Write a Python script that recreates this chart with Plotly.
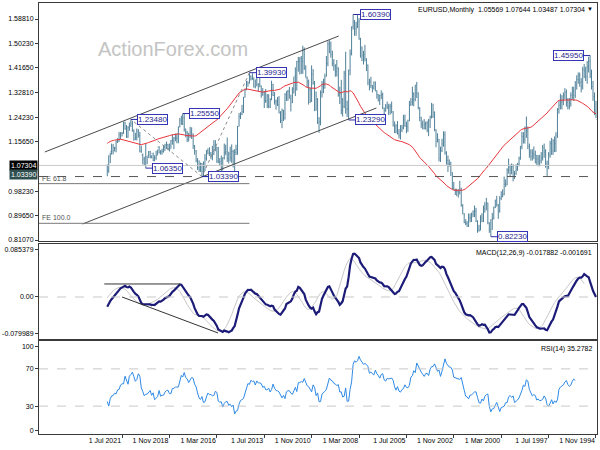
import numpy as np
import pandas as pd
import plotly.graph_objects as go

# ---------------- data (monthly EURUSD, Nov 1994 .. May 2022) ----------------
first_month = "1994-11-01"
first_open = 1.2350

bar_high = [
    1.300, 1.330,
    1.370, 1.410, 1.4595, 1.455, 1.440, 1.420, 1.430, 1.420, 1.380, 1.400, 1.400, 1.390,
    1.370, 1.350, 1.350, 1.330, 1.310, 1.310, 1.340, 1.345, 1.330, 1.320, 1.325, 1.300,
    1.275, 1.190, 1.175, 1.165, 1.170, 1.160, 1.120, 1.090, 1.130, 1.150, 1.145, 1.120,
    1.110, 1.110, 1.110, 1.125, 1.140, 1.130, 1.130, 1.150, 1.210, 1.245, 1.210, 1.190,
    1.191, 1.142, 1.104, 1.082, 1.077, 1.054, 1.077, 1.080, 1.076, 1.097, 1.063, 1.024,
    1.034, 0.989, 0.982, 0.965, 0.937, 0.966, 0.952, 0.928, 0.906, 0.883, 0.873, 0.942,
    0.959, 0.944, 0.932, 0.905, 0.898, 0.864, 0.880, 0.924, 0.932, 0.915, 0.907, 0.904,
    0.904, 0.877, 0.884, 0.905, 0.937, 0.995, 1.019, 0.989, 0.991, 0.991, 1.015, 1.049,
    1.086, 1.094, 1.108, 1.123, 1.193, 1.193, 1.167, 1.139, 1.166, 1.186, 1.200, 1.263,
    1.290, 1.293, 1.248, 1.237, 1.230, 1.227, 1.236, 1.231, 1.244, 1.278, 1.330, 1.367,
    1.356, 1.330, 1.350, 1.310, 1.300, 1.234, 1.227, 1.252, 1.251, 1.216, 1.215, 1.201,
    1.229, 1.218, 1.228, 1.264, 1.298, 1.290, 1.290, 1.298, 1.289, 1.276, 1.329, 1.337,
    1.322, 1.324, 1.337, 1.368, 1.368, 1.356, 1.385, 1.378, 1.428, 1.450, 1.497, 1.476,
    1.492, 1.522, 1.591, 1.602, 1.578, 1.585, 1.6039, 1.562, 1.481, 1.410, 1.301, 1.473,
    1.406, 1.310, 1.374, 1.350, 1.418, 1.444, 1.429, 1.447, 1.477, 1.509, 1.514, 1.510,
    1.458, 1.396, 1.378, 1.370, 1.337, 1.243, 1.310, 1.333, 1.370, 1.412, 1.425, 1.347,
    1.375, 1.386, 1.425, 1.488, 1.494, 1.458, 1.454, 1.455, 1.441, 1.418, 1.385, 1.348,
    1.322, 1.349, 1.339, 1.334, 1.327, 1.269, 1.273, 1.264, 1.317, 1.314, 1.305, 1.331,
    1.360, 1.371, 1.309, 1.324, 1.324, 1.342, 1.335, 1.345, 1.354, 1.383, 1.362, 1.389,
    1.374, 1.382, 1.397, 1.390, 1.3993, 1.368, 1.370, 1.343, 1.314, 1.286, 1.260, 1.257,
    1.212, 1.146, 1.130, 1.128, 1.147, 1.139, 1.121, 1.171, 1.146, 1.150, 1.102, 1.108,
    1.099, 1.138, 1.139, 1.162, 1.162, 1.142, 1.120, 1.137, 1.133, 1.127, 1.113, 1.087,
    1.081, 1.083, 1.091, 1.099, 1.127, 1.145, 1.185, 1.207, 1.209, 1.188, 1.194, 1.203,
    1.254, 1.2555, 1.248, 1.240, 1.210, 1.185, 1.185, 1.173, 1.182, 1.162, 1.150, 1.149,
    1.157, 1.149, 1.145, 1.132, 1.127, 1.141, 1.129, 1.125, 1.109, 1.118, 1.109, 1.124,
    1.124, 1.105, 1.150, 1.102, 1.115, 1.142, 1.191, 1.201, 1.203, 1.188, 1.200, 1.230,
    1.2348, 1.224, 1.211, 1.215, 1.227, 1.227, 1.191, 1.190, 1.191, 1.169, 1.161, 1.138,
    1.148, 1.150, 1.118, 1.108, 1.07644,
]

bar_low = [
    1.240, 1.250,
    1.300, 1.340, 1.380, 1.400, 1.360, 1.370, 1.380, 1.340, 1.330, 1.350, 1.360, 1.340,
    1.310, 1.300, 1.305, 1.280, 1.270, 1.270, 1.280, 1.305, 1.285, 1.270, 1.270, 1.255,
    1.170, 1.120, 1.120, 1.110, 1.110, 1.100, 1.060, 1.036, 1.065, 1.100, 1.090, 1.080,
    1.070, 1.070, 1.075, 1.080, 1.095, 1.090, 1.090, 1.100, 1.130, 1.170, 1.150, 1.150,
    1.130, 1.093, 1.070, 1.054, 1.040, 1.025, 1.017, 1.042, 1.032, 1.044, 1.003, 0.997,
    0.968, 0.961, 0.951, 0.907, 0.885, 0.928, 0.923, 0.883, 0.846, 0.8223, 0.836, 0.866,
    0.915, 0.907, 0.874, 0.873, 0.845, 0.840, 0.836, 0.874, 0.891, 0.891, 0.874, 0.873,
    0.857, 0.857, 0.863, 0.870, 0.902, 0.928, 0.971, 0.960, 0.965, 0.969, 0.987, 0.990,
    1.036, 1.069, 1.050, 1.076, 1.111, 1.139, 1.120, 1.085, 1.087, 1.154, 1.137, 1.193,
    1.240, 1.238, 1.205, 1.176, 1.190, 1.199, 1.200, 1.200, 1.205, 1.228, 1.270, 1.310,
    1.299, 1.281, 1.284, 1.282, 1.229, 1.191, 1.186, 1.209, 1.200, 1.190, 1.164, 1.168,
    1.182, 1.186, 1.187, 1.210, 1.256, 1.252, 1.250, 1.271, 1.262, 1.249, 1.271, 1.306,
    1.286, 1.298, 1.308, 1.334, 1.340, 1.330, 1.345, 1.337, 1.355, 1.405, 1.439, 1.428,
    1.440, 1.452, 1.515, 1.556, 1.529, 1.529, 1.551, 1.460, 1.390, 1.2329, 1.243, 1.255,
    1.274, 1.245, 1.253, 1.289, 1.315, 1.386, 1.385, 1.406, 1.422, 1.452, 1.468, 1.422,
    1.386, 1.343, 1.327, 1.312, 1.214, 1.188, 1.219, 1.266, 1.264, 1.357, 1.296, 1.293,
    1.287, 1.349, 1.382, 1.409, 1.395, 1.395, 1.393, 1.403, 1.337, 1.317, 1.326, 1.292,
    1.263, 1.309, 1.300, 1.300, 1.235, 1.229, 1.204, 1.222, 1.256, 1.282, 1.269, 1.287,
    1.317, 1.302, 1.275, 1.274, 1.275, 1.293, 1.275, 1.318, 1.311, 1.348, 1.333, 1.351,
    1.344, 1.347, 1.374, 1.372, 1.361, 1.350, 1.338, 1.312, 1.257, 1.250, 1.236, 1.210,
    1.110, 1.110, 1.046, 1.066, 1.082, 1.087, 1.080, 1.085, 1.109, 1.094, 1.056, 1.052,
    1.071, 1.081, 1.082, 1.123, 1.110, 1.091, 1.095, 1.106, 1.112, 1.090, 1.053, 1.035,
    1.0339, 1.050, 1.050, 1.057, 1.084, 1.111, 1.131, 1.166, 1.170, 1.157, 1.155, 1.172,
    1.192, 1.215, 1.216, 1.207, 1.151, 1.151, 1.158, 1.130, 1.146, 1.132, 1.122, 1.127,
    1.131, 1.124, 1.118, 1.111, 1.111, 1.116, 1.110, 1.093, 1.088, 1.088, 1.098, 1.098,
    1.099, 1.078, 1.0635, 1.073, 1.077, 1.117, 1.119, 1.171, 1.161, 1.162, 1.160, 1.192,
    1.209, 1.195, 1.170, 1.170, 1.199, 1.184, 1.175, 1.166, 1.156, 1.152, 1.119, 1.122,
    1.112, 1.111, 1.081, 1.047, 1.03487,
]

bar_close = [
    1.255, 1.315,
    1.350, 1.395, 1.440, 1.420, 1.385, 1.405, 1.410, 1.350, 1.365, 1.390, 1.375, 1.355,
    1.320, 1.335, 1.320, 1.290, 1.280, 1.295, 1.330, 1.320, 1.300, 1.295, 1.285, 1.270,
    1.180, 1.150, 1.160, 1.125, 1.150, 1.110, 1.070, 1.080, 1.120, 1.135, 1.100, 1.090,
    1.085, 1.095, 1.085, 1.110, 1.115, 1.105, 1.120, 1.140, 1.195, 1.205, 1.165, 1.175,
    1.139, 1.098, 1.077, 1.058, 1.043, 1.034, 1.069, 1.057, 1.067, 1.057, 1.007, 1.007,
    0.971, 0.964, 0.957, 0.911, 0.936, 0.952, 0.926, 0.887, 0.883, 0.846, 0.871, 0.941,
    0.935, 0.922, 0.877, 0.888, 0.845, 0.847, 0.877, 0.912, 0.911, 0.902, 0.889, 0.888,
    0.859, 0.869, 0.872, 0.902, 0.933, 0.987, 0.977, 0.981, 0.987, 0.989, 0.992, 1.049,
    1.076, 1.078, 1.091, 1.117, 1.181, 1.149, 1.125, 1.098, 1.165, 1.158, 1.199, 1.260,
    1.245, 1.245, 1.232, 1.196, 1.220, 1.218, 1.203, 1.218, 1.242, 1.276, 1.327, 1.356,
    1.304, 1.326, 1.296, 1.287, 1.230, 1.210, 1.213, 1.233, 1.205, 1.198, 1.179, 1.185,
    1.214, 1.190, 1.212, 1.262, 1.282, 1.279, 1.277, 1.281, 1.267, 1.275, 1.323, 1.319,
    1.302, 1.323, 1.336, 1.366, 1.345, 1.354, 1.369, 1.364, 1.426, 1.448, 1.463, 1.459,
    1.486, 1.518, 1.579, 1.561, 1.554, 1.576, 1.561, 1.466, 1.408, 1.273, 1.270, 1.397,
    1.280, 1.267, 1.325, 1.323, 1.415, 1.403, 1.424, 1.433, 1.464, 1.472, 1.500, 1.432,
    1.386, 1.363, 1.351, 1.330, 1.227, 1.223, 1.305, 1.268, 1.362, 1.393, 1.300, 1.338,
    1.369, 1.380, 1.416, 1.481, 1.439, 1.450, 1.439, 1.438, 1.339, 1.387, 1.343, 1.296,
    1.308, 1.334, 1.334, 1.323, 1.236, 1.266, 1.231, 1.258, 1.286, 1.296, 1.299, 1.319,
    1.358, 1.306, 1.282, 1.317, 1.300, 1.301, 1.330, 1.322, 1.353, 1.359, 1.359, 1.375,
    1.349, 1.381, 1.377, 1.387, 1.363, 1.369, 1.339, 1.313, 1.263, 1.253, 1.245, 1.210,
    1.129, 1.119, 1.073, 1.122, 1.099, 1.114, 1.098, 1.121, 1.118, 1.100, 1.057, 1.086,
    1.083, 1.088, 1.138, 1.145, 1.113, 1.110, 1.117, 1.116, 1.124, 1.098, 1.059, 1.052,
    1.080, 1.058, 1.065, 1.090, 1.124, 1.142, 1.184, 1.191, 1.181, 1.165, 1.190, 1.200,
    1.241, 1.219, 1.232, 1.208, 1.169, 1.168, 1.169, 1.160, 1.161, 1.131, 1.132, 1.147,
    1.145, 1.137, 1.122, 1.121, 1.117, 1.137, 1.108, 1.099, 1.090, 1.115, 1.102, 1.121,
    1.109, 1.103, 1.103, 1.096, 1.110, 1.123, 1.178, 1.194, 1.172, 1.165, 1.193, 1.222,
    1.213, 1.207, 1.173, 1.202, 1.223, 1.186, 1.187, 1.181, 1.158, 1.156, 1.134, 1.137,
    1.124, 1.122, 1.107, 1.05569, 1.07304,
]

# labelled swing points
label_dates = ["2021-01-01", "2020-03-01", "2018-02-01", "2017-01-01", "2014-05-01",
               "2008-07-01", "2008-10-01", "2000-10-01", "1995-03-01"]
label_prices = [1.2348, 1.0635, 1.2555, 1.0339, 1.3993, 1.6039, 1.2329, 0.8223, 1.4595]
label_side = [1, 1, 1, 1, 1, 1, 1, 1, -1]

# Fibonacci expansion anchor points (A, B, C) and ratios
fe_dates = ["2014-05-01", "2017-01-01", "2021-01-01"]
fe_prices = [1.3993, 1.0339, 1.2348]
fe_ratios = [61.8, 100.0]

# channel trend lines
chan_upper_dates = ["2025-11-04", "2009-04-22"]
chan_upper_prices = [1.1203, 1.5283]
chan_lower_dates = ["2023-09-22", "2007-03-10"]
chan_lower_prices = [0.8670, 1.2751]

# MACD trend lines
macd_flat_dates = ["2022-07-01", "2018-03-19"]
macd_flat_vals = [0.0236, 0.0236]
macd_down_dates = ["2021-07-01", "2016-02-06"]
macd_down_vals = [0.0, -0.0652]

current_price = 1.07304
support_price = 1.0339

price_ticks = [1.5881, 1.5023, 1.4165, 1.3281, 1.2423, 1.1565, 0.9823, 0.8965, 0.8107]
date_ticks = ["1994-11-01", "1997-07-01", "2000-03-01", "2002-11-01", "2005-07-01",
              "2008-03-01", "2010-11-01", "2013-07-01", "2016-03-01", "2018-11-01",
              "2021-07-01"]

# ---------------- derived series ----------------
dates = pd.date_range(first_month, periods=len(bar_close), freq="MS")
close = np.array(bar_close)
opens = np.concatenate([[first_open], close[:-1]])


def ema(x, n):
    a = 2.0 / (n + 1)
    out = np.empty(len(x))
    out[0] = x[0]
    for i in range(1, len(x)):
        out[i] = a * x[i] + (1 - a) * out[i - 1]
    return out


ma55 = ema(close, 55)
macd = ema(close, 12) - ema(close, 26)
signal = pd.Series(macd).rolling(9).mean().values

diff = np.diff(close)
gain = np.where(diff > 0, diff, 0.0)
loss = np.where(diff < 0, -diff, 0.0)
rsi = np.full(len(close), np.nan)
ag, al = gain[:14].mean(), loss[:14].mean()
rsi[14] = 100 - 100 / (1 + ag / al) if al > 0 else 100
for i in range(15, len(close)):
    ag = (ag * 13 + gain[i - 1]) / 14
    al = (al * 13 + loss[i - 1]) / 14
    rsi[i] = 100 - 100 / (1 + ag / al) if al > 0 else 100

# ---------------- figure ----------------
FONT = "Arial"
bar_color = "#4f8099"
xr = ["2026-03-04", "1994-10-11"]
H = 431.0
def dom(top_px, bot_px):
    return [(434 - bot_px) / H, (434 - top_px) / H]

d_main, d_macd, d_rsi = dom(3, 241), dom(244, 339), dom(341, 434)

fig = go.Figure()
fig.add_trace(go.Ohlc(x=dates, open=opens, high=bar_high, low=bar_low, close=close,
                      increasing_line_color=bar_color, decreasing_line_color=bar_color,
                      line_width=1, tickwidth=0.3, xaxis="x", yaxis="y", hoverinfo="skip"))
fig.add_trace(go.Scatter(x=dates, y=ma55, mode="lines", line=dict(color="#e8343a", width=1),
                         xaxis="x", yaxis="y", hoverinfo="skip"))
fig.add_trace(go.Scatter(x=dates, y=signal, mode="lines", line=dict(color="#c8c8c8", width=1),
                         xaxis="x2", yaxis="y2", hoverinfo="skip"))
fig.add_trace(go.Scatter(x=dates, y=macd, mode="lines", line=dict(color="#1c1c78", width=2.2),
                         xaxis="x2", yaxis="y2", hoverinfo="skip"))
fig.add_trace(go.Scatter(x=dates, y=rsi, mode="lines", line=dict(color="#2e8ae6", width=1),
                         xaxis="x3", yaxis="y3", hoverinfo="skip"))

frame = dict(showline=True, mirror=True, linecolor="#3a3a3a", linewidth=1,
             showgrid=False, zeroline=False)
tickf = dict(family=FONT, size=7, color="#000")

layout = dict(
    width=600, height=450, margin=dict(l=34, r=2, t=3, b=16),
    paper_bgcolor="white", plot_bgcolor="white", showlegend=False,
    xaxis=dict(domain=[0, 1], anchor="y", range=xr, type="date", showticklabels=False,
               ticks="", rangeslider=dict(visible=False), **frame),
    xaxis2=dict(domain=[0, 1], anchor="y2", range=xr, type="date", showticklabels=False,
                ticks="", **frame),
    xaxis3=dict(domain=[0, 1], anchor="y3", range=xr, type="date",
                tickvals=date_ticks,
                ticktext=[pd.Timestamp(d).strftime("1 %b %Y") for d in date_ticks],
                ticks="outside", ticklen=3, tickcolor="#3a3a3a",
                ticklabelposition="outside left", tickfont=tickf, **frame),
    yaxis=dict(domain=d_main, anchor="x", range=[0.8072, 1.6444], tickvals=price_ticks,
               ticktext=[f"{v:.5f}" for v in price_ticks], ticks="outside", ticklen=3,
               tickcolor="#3a3a3a", tickfont=tickf, **frame),
    yaxis2=dict(domain=d_macd, anchor="x2", range=[-0.0761, 0.0960],
                tickvals=[0.085379, 0.0, -0.0667], ticktext=["0.085379", "0.00", "-0.079989"],
                ticks="outside", ticklen=3, tickcolor="#3a3a3a", tickfont=tickf, **frame),
    yaxis3=dict(domain=d_rsi, anchor="x3", range=[0, 100],
                tickvals=[4, 30, 70, 94], ticktext=["0", "30", "70", "100"],
                ticks="outside", ticklen=3, tickcolor="#3a3a3a", tickfont=tickf, **frame),
)
fig.update_layout(**layout)

shapes = []
# horizontal price lines
shapes.append(dict(type="line", xref="x domain", yref="y", x0=0, x1=1, y0=current_price,
                   y1=current_price, line=dict(color="#c8c8c8", width=1)))
shapes.append(dict(type="line", xref="x domain", yref="y", x0=0, x1=1, y0=support_price,
                   y1=support_price, line=dict(color="#555555", width=1, dash="dash")))
# channel
for ds, ps in [(chan_upper_dates, chan_upper_prices), (chan_lower_dates, chan_lower_prices)]:
    shapes.append(dict(type="line", xref="x", yref="y", x0=ds[0], x1=ds[1], y0=ps[0], y1=ps[1],
                       line=dict(color="#4a4a4a", width=1)))
# FE anchor dotted lines
for i in range(2):
    shapes.append(dict(type="line", xref="x", yref="y", x0=fe_dates[i], x1=fe_dates[i + 1],
                       y0=fe_prices[i], y1=fe_prices[i + 1],
                       line=dict(color="#8a8a8a", width=1, dash="dot")))
# FE levels
fe_range = fe_prices[0] - fe_prices[1]
fe_levels = [fe_prices[2] - r / 100.0 * fe_range for r in fe_ratios]
for r, lv in zip(fe_ratios, fe_levels):
    shapes.append(dict(type="line", xref="x", yref="y", x0=fe_dates[0], x1=xr[0], y0=lv, y1=lv,
                       line=dict(color="#7a7a7a", width=1)))
# MACD zero + trend lines
shapes.append(dict(type="line", xref="x2 domain", yref="y2", x0=0, x1=1, y0=0, y1=0,
                   line=dict(color="#c8c8c8", width=1, dash="dash")))
for ds, vs in [(macd_flat_dates, macd_flat_vals), (macd_down_dates, macd_down_vals)]:
    shapes.append(dict(type="line", xref="x2", yref="y2", x0=ds[0], x1=ds[1], y0=vs[0], y1=vs[1],
                       line=dict(color="#333333", width=1)))
# RSI levels
for lv in (30, 70):
    shapes.append(dict(type="line", xref="x3 domain", yref="y3", x0=0, x1=1, y0=lv, y1=lv,
                       line=dict(color="#c8c8c8", width=1, dash="dash")))
fig.update_layout(shapes=shapes)

ann = []
# swing labels
for d, p, s in zip(label_dates, label_prices, label_side):
    ann.append(dict(x=d, y=p, xref="x", yref="y", text=f"{p:.5f}", showarrow=True,
                    arrowhead=0, arrowwidth=1, arrowcolor="#2b2ba8", ax=22 * s, ay=0,
                    font=dict(family=FONT, size=8, color="#1f1f8f"), bgcolor="white",
                    bordercolor="#3535b5", borderwidth=1, borderpad=0))
# FE labels
for r, lv in zip(fe_ratios, fe_levels):
    ann.append(dict(x=0, xref="x domain", y=lv, yref="y", text=f"FE {r:.1f}", showarrow=False,
                    xanchor="left", yanchor="bottom", xshift=1, yshift=0,
                    font=dict(family=FONT, size=7, color="#505050")))
# axis price boxes
ann.append(dict(x=0, xref="paper", y=current_price, yref="y", text=f"{current_price:.5f}",
                showarrow=False, xanchor="right", xshift=-1, bgcolor="#000000",
                font=dict(family=FONT, size=7, color="white"), borderpad=1))
ann.append(dict(x=0, xref="paper", y=support_price, yref="y", text=f"{support_price:.5f}",
                showarrow=False, xanchor="right", xshift=-1, yshift=2, bgcolor="#2f4f4f",
                font=dict(family=FONT, size=7, color="white"), borderpad=1))
# headers
ann.append(dict(x=1, xref="paper", y=d_main[1], yref="paper", xanchor="right", yanchor="top",
                xshift=-10, yshift=-1, showarrow=False,
                text="EURUSD,Monthly  1.05569 1.07644 1.03487 1.07304",
                font=dict(family=FONT, size=7, color="#000")))
ann.append(dict(x=1, xref="paper", y=d_main[1], yref="paper", xanchor="right", yanchor="top",
                xshift=-2, yshift=-1, showarrow=False, text="\u25bc",
                font=dict(family=FONT, size=6, color="#000")))
ann.append(dict(x=1, xref="paper", y=d_macd[1], yref="paper", xanchor="right", yanchor="top",
                xshift=-3, yshift=-3, showarrow=False,
                text="MACD(12,26,9) -0.017882 -0.001691",
                font=dict(family=FONT, size=7, color="#000")))
ann.append(dict(x=1, xref="paper", y=d_rsi[1], yref="paper", xanchor="right", yanchor="top",
                xshift=-3, yshift=-2, showarrow=False, text="RSI(14) 35.2782",
                font=dict(family=FONT, size=7, color="#000")))
# watermark
ann.append(dict(x=0.24, xref="paper", xanchor="center", y=1.5881, yref="y", yshift=-30,
                showarrow=False, text="ActionForex.com",
                font=dict(family=FONT, size=20, color="#c4c4c4")))
fig.update_layout(annotations=ann)

fig.write_html("out.html")
